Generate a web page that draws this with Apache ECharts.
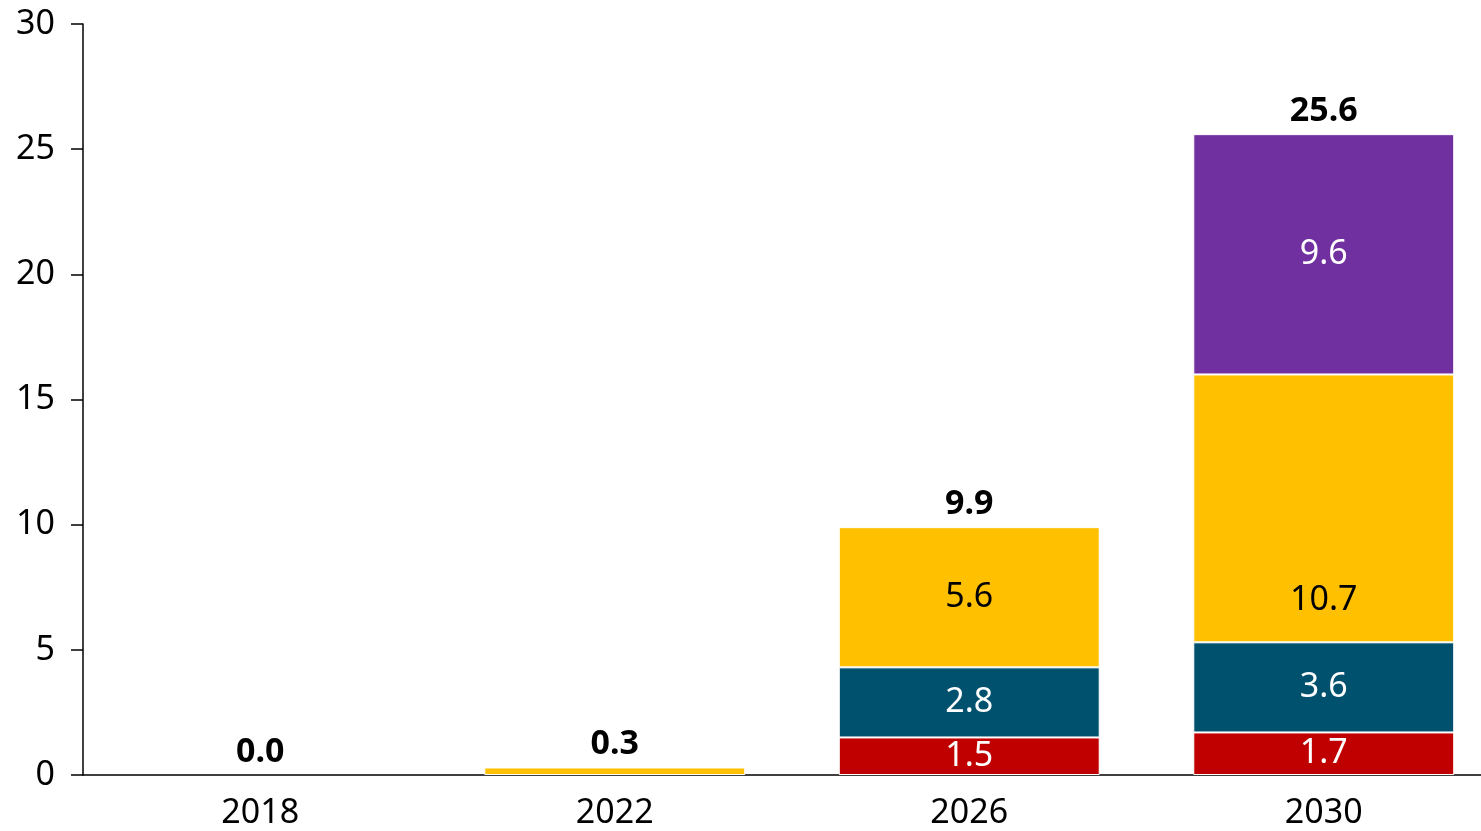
<!DOCTYPE html>
<html lang="en" style="height: 100%">
<head>
    <meta charset="utf-8">
</head>
<body style="height: 100%; margin: 0">
<div id="container" style="height: 100%"></div>
<script type="text/javascript" src="https://fastly.jsdelivr.net/npm/echarts@6.0.0/dist/echarts.min.js"></script>
<script type="text/javascript">

    const years = ['2018', '2022', '2026', '2030'];
    const redValues = [null, null, 1.5, 1.7];
    const tealValues = [null, null, 2.8, 3.6];
    const yellowValues = [null, 0.3, 5.6, 10.7];
    const purpleValues = [null, null, null, 9.6];
    const totals = [0.0, 0.3, 9.9, 25.6];

    const font = '"Noto Sans", "Open Sans", sans-serif';
    const fontSize = 34;

    var dom = document.getElementById('container');
    var myChart = echarts.init(dom, null, {renderer: 'canvas'});

    function segment(name, values, color, textColor) {
        return {
            name: name,
            type: 'bar',
            stack: 'total',
            barWidth: '73.6%',
            data: values,
            itemStyle: {
                color: color,
                borderColor: '#ffffff',
                borderWidth: 1
            },
            label: {
                show: true,
                position: 'inside',
                color: textColor,
                fontFamily: font,
                fontSize: fontSize,
                formatter: function (p) {
                    return p.value >= 1 ? p.value.toFixed(1) : '';
                }
            }
        };
    }

    const yellow = segment('yellow', yellowValues, '#FFC000', '#000000');
    // the 10.7 label sits low in its block in the original
    yellow.data = yellowValues.map((v, i) => i === 3 ? {value: v, label: {offset: [0, 92]}} : v);

    // zero-height bar on top of each stack, only carries the total label
    const totalSeries = {
        name: 'total',
        type: 'bar',
        stack: 'total',
        barWidth: '73.6%',
        data: totals.map(() => 0),
        itemStyle: {color: 'rgba(0,0,0,0)'},
        label: {
            show: true,
            position: 'top',
            distance: 6,
            color: '#000000',
            fontFamily: font,
            fontSize: fontSize,
            fontWeight: 'bold',
            formatter: function (p) {
                return totals[p.dataIndex].toFixed(1);
            }
        }
    };

    const option = {
        animation: false,
        grid: {
            left: 83,
            top: 24,
            bottom: 56,
            width: 1418,
            outerBoundsMode: 'none',
            containLabel: false
        },
        xAxis: {
            type: 'category',
            data: years,
            axisLine: {lineStyle: {color: '#000000', width: 1.5}},
            axisTick: {show: false},
            axisLabel: {
                color: '#000000',
                fontFamily: font,
                fontSize: fontSize,
                margin: 21
            }
        },
        yAxis: {
            type: 'value',
            min: 0,
            max: 30,
            interval: 5,
            splitLine: {show: false},
            axisLine: {show: true, lineStyle: {color: '#000000', width: 1.5}},
            axisTick: {show: true, length: 12, lineStyle: {color: '#000000', width: 1.5}},
            axisLabel: {
                color: '#000000',
                fontFamily: font,
                fontSize: fontSize,
                margin: 28
            }
        },
        series: [
            segment('red', redValues, '#C00000', '#ffffff'),
            segment('teal', tealValues, '#00516E', '#ffffff'),
            yellow,
            segment('purple', purpleValues, '#7030A0', '#ffffff'),
            totalSeries
        ]
    };

    myChart.setOption(option);
    window.addEventListener('resize', myChart.resize);

</script>
</body>
</html>
